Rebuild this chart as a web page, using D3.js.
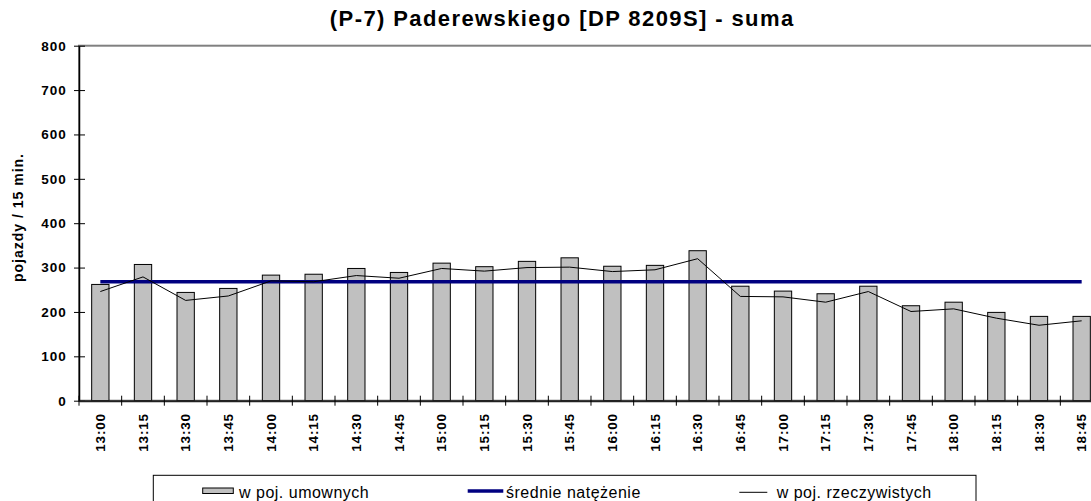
<!DOCTYPE html>
<html>
<head>
<meta charset="utf-8">
<script src="https://cdn.jsdelivr.net/npm/d3@7"></script>
<style>
  body { margin: 0; background: #fff; }
  svg { display: block; }
  text { font-family: "Liberation Sans", Arial, sans-serif; }
</style>
</head>
<body>
<script>
// Data
const godziny = [
  "13:00", "13:15", "13:30", "13:45", "14:00", "14:15", "14:30", "14:45",
  "15:00", "15:15", "15:30", "15:45", "16:00", "16:15", "16:30", "16:45",
  "17:00", "17:15", "17:30", "17:45", "18:00", "18:15", "18:30", "18:45"
];
const wPojUmownych = [
  262, 307, 244, 253, 283, 285, 298, 289,
  310, 302, 314, 322, 303, 305, 338, 258,
  247, 241, 258, 214, 222, 199, 190, 190
];
const wPojRzeczywistych = [
  246, 279, 226, 236, 270, 268, 282, 276,
  298, 292, 300, 301, 291, 295, 320, 235,
  234, 222, 246, 201, 207, 186, 170, 180
];
const srednieNatezenie = 268;
const yTicks = [0, 100, 200, 300, 400, 500, 600, 700, 800];

// Layout
const width = 1091;
const height = 501;
const plot = { left: 79, right: 1103, top: 45.7, bottom: 400.7 };

const svg = d3
  .select("body")
  .append("svg")
  .attr("width", width)
  .attr("height", height);

// Scales
const xCat = d3.scaleBand().domain(godziny).range([plot.left, plot.right]);
const x = d3
  .scaleBand()
  .domain(godziny)
  .range([plot.left, plot.right])
  .paddingInner(0.594)
  .paddingOuter(0.297);
const y = d3.scaleLinear().domain([0, 800]).range([plot.bottom, plot.top]);
const xMid = (d) => xCat(d) + xCat.bandwidth() / 2;

// Plot area border (grey)
svg
  .append("rect")
  .attr("x", plot.left)
  .attr("y", plot.top)
  .attr("width", plot.right - plot.left)
  .attr("height", plot.bottom - plot.top)
  .attr("fill", "none")
  .attr("stroke", "#808080")
  .attr("stroke-width", 2);

// Bars
svg
  .selectAll(".bar")
  .data(godziny)
  .enter()
  .append("rect")
  .attr("class", "bar")
  .attr("x", (d) => x(d))
  .attr("y", (d, i) => y(wPojUmownych[i]))
  .attr("width", x.bandwidth())
  .attr("height", (d, i) => y(0) - y(wPojUmownych[i]))
  .attr("fill", "#c0c0c0")
  .attr("stroke", "#000")
  .attr("stroke-width", 1);

// Mean line
svg
  .append("path")
  .datum(godziny)
  .attr("fill", "none")
  .attr("stroke", "#000080")
  .attr("stroke-width", 3.5)
  .attr("d", d3.line().x((d) => xMid(d)).y(() => y(srednieNatezenie)));

// Real vehicles line
svg
  .append("path")
  .datum(godziny)
  .attr("fill", "none")
  .attr("stroke", "#000")
  .attr("stroke-width", 1)
  .attr("d", d3.line().x((d) => xMid(d)).y((d, i) => y(wPojRzeczywistych[i])));

// Y axis
const yAxis = svg
  .append("g")
  .attr("transform", `translate(${plot.left},0)`)
  .call(d3.axisLeft(y).tickValues(yTicks).tickSizeInner(5).tickSizeOuter(0).tickPadding(7.3));
yAxis.select(".domain").attr("stroke", "#000").attr("stroke-width", 1.5);
yAxis.selectAll(".tick line").attr("x1", 6).attr("stroke", "#000");
yAxis
  .selectAll(".tick text")
  .attr("font-size", "13.5px")
  .attr("font-weight", "bold")
  .attr("font-family", "Liberation Sans, Arial, sans-serif")
  .style("letter-spacing", "1px")
  .attr("fill", "#000");

// X axis
const xAxis = svg
  .append("g")
  .attr("transform", `translate(0,${plot.bottom})`)
  .call(d3.axisBottom(xCat).tickSizeInner(5).tickSizeOuter(0));
xAxis.select(".domain").attr("stroke", "#222").attr("stroke-width", 2);
xAxis
  .selectAll(".tick line")
  .attr("x1", -xCat.step() / 2)
  .attr("x2", -xCat.step() / 2)
  .attr("y1", -5)
  .attr("y2", 5)
  .attr("stroke", "#000");
xAxis
  .selectAll(".tick text")
  .attr("transform", "rotate(-90)")
  .attr("x", -12.5)
  .attr("y", 0)
  .attr("dy", "0.35em")
  .style("text-anchor", "end")
  .attr("font-size", "13.5px")
  .attr("font-weight", "bold")
  .attr("font-family", "Liberation Sans, Arial, sans-serif")
  .style("letter-spacing", "0.8px")
  .attr("fill", "#000");

// Title
svg
  .append("text")
  .attr("x", 562.2)
  .attr("y", 25.8)
  .attr("text-anchor", "middle")
  .attr("font-size", "22px")
  .attr("font-weight", "bold")
  .style("letter-spacing", "1.4px")
  .text("(P-7) Paderewskiego [DP 8209S] - suma");

// Y axis title
svg
  .append("text")
  .attr("transform", "translate(22.5,217.5) rotate(-90)")
  .attr("text-anchor", "middle")
  .attr("font-size", "14px")
  .attr("font-weight", "bold")
  .style("letter-spacing", "1px")
  .text("pojazdy / 15 min.");

// Legend
const legend = svg.append("g");
legend
  .append("rect")
  .attr("x", 153.3)
  .attr("y", 475.3)
  .attr("width", 822.7)
  .attr("height", 40)
  .attr("fill", "#fff")
  .attr("stroke", "#000")
  .attr("stroke-width", 1);

legend
  .append("rect")
  .attr("x", 202.7)
  .attr("y", 488)
  .attr("width", 30.6)
  .attr("height", 5.5)
  .attr("fill", "#c0c0c0")
  .attr("stroke", "#000");
legend
  .append("line")
  .attr("x1", 467.7)
  .attr("x2", 503.3)
  .attr("y1", 491)
  .attr("y2", 491)
  .attr("stroke", "#000080")
  .attr("stroke-width", 3.5);
legend
  .append("line")
  .attr("x1", 739.3)
  .attr("x2", 767.3)
  .attr("y1", 492.3)
  .attr("y2", 492.3)
  .attr("stroke", "#000")
  .attr("stroke-width", 1);

const legendItems = [
  { x: 239, label: "w poj. umownych" },
  { x: 506, label: "średnie natężenie" },
  { x: 776.7, label: "w poj. rzeczywistych" },
];
legend
  .selectAll(".legend-label")
  .data(legendItems)
  .enter()
  .append("text")
  .attr("class", "legend-label")
  .attr("x", (d) => d.x)
  .attr("y", 497.7)
  .attr("font-size", "16px")
  .style("letter-spacing", "0.5px")
  .text((d) => d.label);
</script>
</body>
</html>
